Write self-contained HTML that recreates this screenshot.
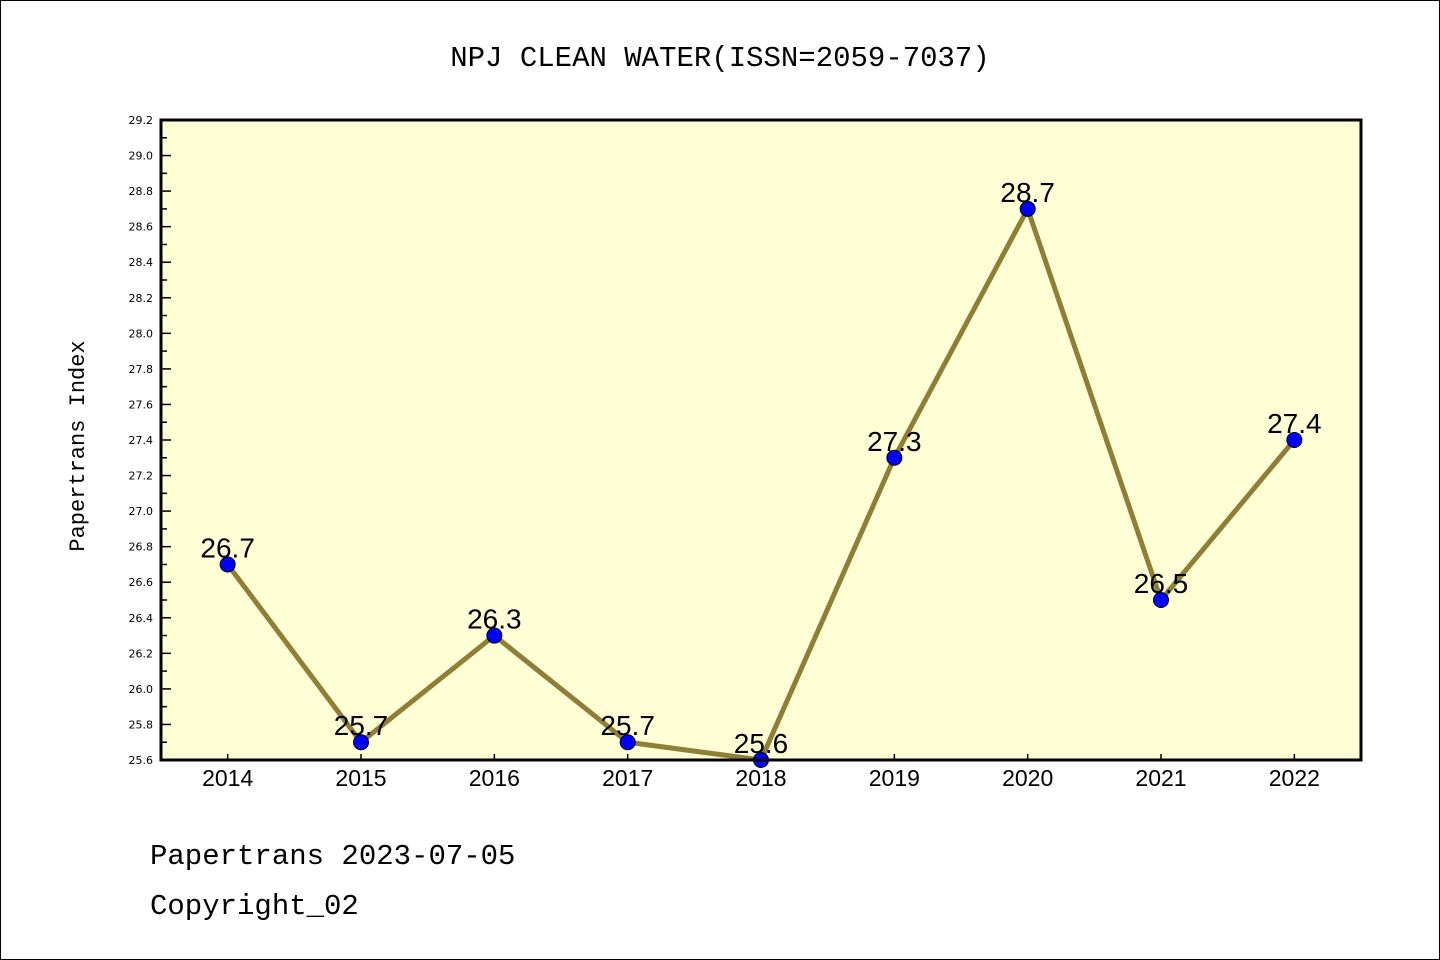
<!DOCTYPE html>
<html><head><meta charset="utf-8"><style>
body{margin:0;background:#fff;}
svg{display:block;font-family:"Liberation Mono","DejaVu Sans Mono",monospace;}
</style></head><body>
<svg id="c" width="1440" height="960">
<rect x="0.5" y="0.5" width="1439" height="959" fill="#fff" stroke="#000"/>
<text x="720" y="66" text-anchor="middle" font-size="29">NPJ CLEAN WATER(ISSN=2059-7037)</text>
<rect x="161" y="120" width="1200" height="640" fill="#ffffd5"/>
<g id="ticks"></g>
<g id="series"></g>
<rect x="161" y="120" width="1200" height="640" fill="none" stroke="#000" stroke-width="3"/>
<text transform="translate(84,446) rotate(-90)" text-anchor="middle" font-size="22">Papertrans Index</text>
<text x="150" y="864" font-size="29">Papertrans 2023-07-05</text>
<text x="150" y="914" font-size="29">Copyright_02</text>
</svg>
<script>
const categories=["2014","2015","2016","2017","2018","2019","2020","2021","2022"];
const values=[26.7,25.7,26.3,25.7,25.6,27.3,28.7,26.5,27.4];
const valueLabels=["26.7","25.7","26.3","25.7","25.6","27.3","28.7","26.5","27.4"];
const yMin=25.6,yMax=29.2;
const NS="http://www.w3.org/2000/svg";
const L=161,R=1361,T=120,B=760;
const step=(R-L)/categories.length;
const x=i=>L+step*(i+0.5);
const y=v=>B-(v-yMin)/(yMax-yMin)*(B-T);
function mk(tag,attrs,parent){const e=document.createElementNS(NS,tag);for(const k in attrs)e.setAttribute(k,attrs[k]);parent.appendChild(e);return e;}
const tg=document.getElementById('ticks'),sg=document.getElementById('series');
for(let k=0;k<=36;k++){
  const v=yMin+k*0.1,yy=y(v),major=k%2===0;
  const t=mk('line',{x1:L,x2:L+(major?10:6),y1:yy,y2:yy,stroke:'#000','stroke-width':1.5},tg);
  
  
  if(major){
    const lb=mk('text',{x:L-8,y:yy+4,'text-anchor':'end','font-size':11,'font-family':'"DejaVu Sans",sans-serif'},tg);
    lb.textContent=v.toFixed(1);
    
    
  }
}
categories.forEach((c,i)=>{
  const t=mk('line',{x1:x(i),x2:x(i),y1:B,y2:B-6,stroke:'#000','stroke-width':1.5},tg);
  
  
  const lb=mk('text',{x:x(i),y:B+26,'text-anchor':'middle','font-size':23,'font-family':'"Liberation Sans",sans-serif'},tg);
  lb.textContent=c;
  
  
});
const line=mk('polyline',{points:values.map((v,i)=>x(i)+','+y(v)).join(' '),fill:'none',stroke:'#8f7f36','stroke-width':5,'stroke-linejoin':'round'},sg);


values.forEach((v,i)=>{
  const p=mk('circle',{cx:x(i),cy:y(v),r:7.5,fill:'#0000ff',stroke:'#000','stroke-width':1},sg);
  
  
  const lb=mk('text',{x:x(i),y:y(v)-7,'text-anchor':'middle','font-size':28,'font-family':'"Liberation Sans",sans-serif'},sg);
  lb.textContent=valueLabels[i];
  
  
});
</script>
</body></html>
